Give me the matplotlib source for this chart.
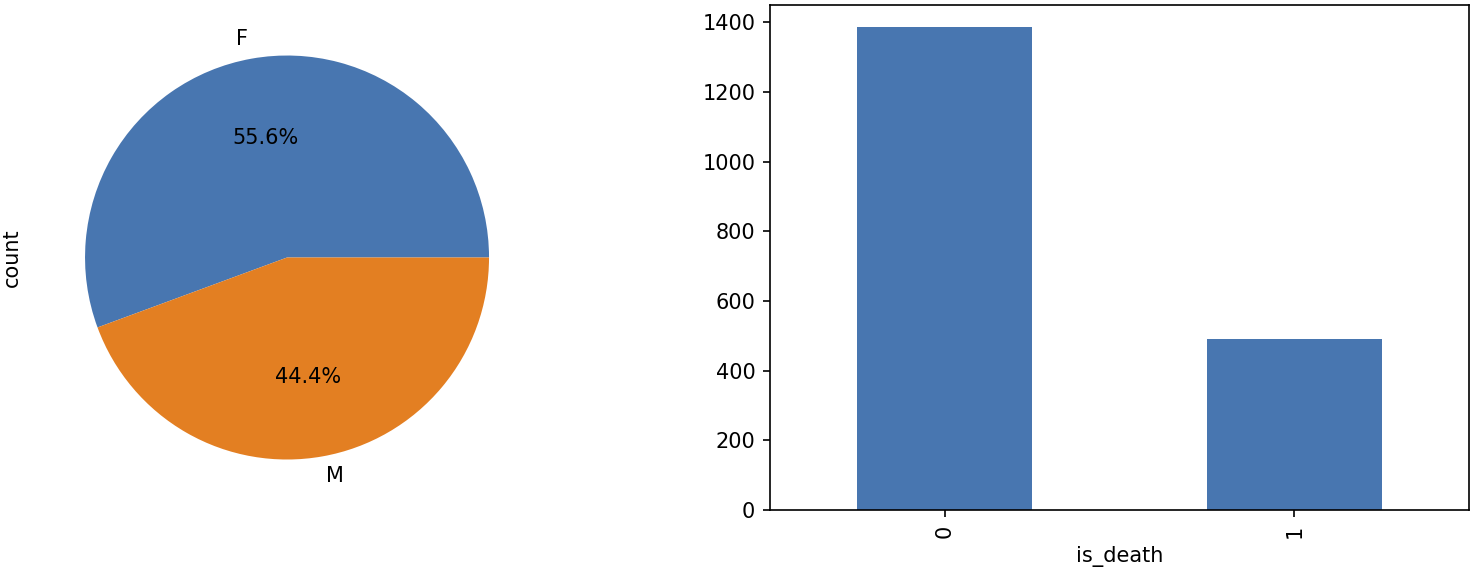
import numpy as np
import matplotlib
matplotlib.use('Agg')
import matplotlib.pyplot as plt

# 数据
sex_labels = ['F', 'M']
sex_counts = [1043, 832]
death_labels = ['0', '1']
death_counts = [1385, 490]

blue = '#4876B0'
orange = '#E37F22'

fig = plt.figure(figsize=(1475 / 150, 577 / 150), dpi=150)

# ---------- 左：性别饼图 ----------
ax1 = fig.add_axes([0.0234, 0.1161, 0.3424, 0.8752])
ax1.pie(sex_counts, labels=sex_labels, autopct='%1.1f%%', colors=[blue, orange])
ax1.set_xlim(-1.25, 1.25)
ax1.set_ylim(-1.25, 1.25)
ax1.set_aspect('equal')
ax1.set_ylabel('count', labelpad=6)

# ---------- 右：死亡计数柱状图 ----------
ax2 = fig.add_axes([0.5220, 0.1161, 0.4739, 0.8752])
x = np.arange(len(death_labels))
ax2.bar(x, death_counts, width=0.5, color=blue)
ax2.set_xlim(-0.5, len(death_labels) - 0.5)
ax2.set_ylim(0, 1449)
ax2.set_xticks(x)
ax2.set_xticklabels(death_labels, rotation=90)
ax2.set_yticks([0, 200, 400, 600, 800, 1000, 1200, 1400])
ax2.set_xlabel('is_death')

plt.savefig('out.png', dpi=150)
